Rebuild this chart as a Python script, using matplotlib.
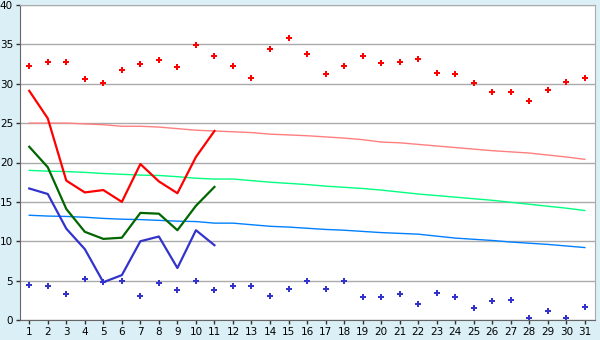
import numpy as np
import matplotlib
matplotlib.use('Agg')
import matplotlib.pyplot as plt

#data
days = np.arange(1, 32)
maxTemp = [32.2, 32.8, 32.7, 30.6, 30.1, 31.7, 32.5, 33.0, 32.1, 34.9, 33.5,
           32.3, 30.7, 34.4, 35.8, 33.8, 31.3, 32.2, 33.5, 32.6, 32.8,
           33.1, 31.4, 31.2, 30.1, 28.9, 28.9, 27.8, 29.2, 30.2, 30.7]
minTemp = [4.4, 4.3, 3.3, 5.2, 4.8, 5.0, 3.1, 4.7, 3.8, 5.0, 3.8,
           4.3, 4.3, 3.0, 3.9, 4.9, 3.9, 4.9, 2.9, 2.9, 3.3,
           2.0, 3.4, 2.9, 1.5, 2.4, 2.6, 0.3, 1.1, 0.2, 1.7]
highLine = [29.1, 25.6, 17.7, 16.2, 16.5, 15.0, 19.8, 17.6, 16.1, 20.7, 24.0]
meanLine = [22.0, 19.4, 14.1, 11.2, 10.3, 10.45, 13.6, 13.5, 11.4, 14.5, 16.9]
lowLine = [16.7, 16.0, 11.6, 9.0, 4.8, 5.7, 10.0, 10.6, 6.6, 11.4, 9.5]
normHigh = [25.0, 25.0, 25.0, 24.9, 24.8, 24.6, 24.6, 24.5, 24.3, 24.1, 24.0,
            23.9, 23.8, 23.6, 23.5, 23.4, 23.25, 23.1, 22.9, 22.6, 22.5,
            22.3, 22.1, 21.9, 21.7, 21.5, 21.35, 21.2, 20.95, 20.7, 20.4]
normMean = [19.0, 18.9, 18.85, 18.75, 18.6, 18.5, 18.4, 18.35, 18.2, 18.0, 17.9,
            17.9, 17.7, 17.5, 17.35, 17.2, 17.0, 16.85, 16.7, 16.5, 16.25,
            16.0, 15.8, 15.6, 15.4, 15.2, 14.95, 14.7, 14.45, 14.2, 13.9]
normLow = [13.3, 13.2, 13.15, 13.05, 12.9, 12.8, 12.75, 12.65, 12.55, 12.5, 12.3,
           12.3, 12.1, 11.9, 11.8, 11.65, 11.5, 11.4, 11.25, 11.1, 11.0,
           10.9, 10.65, 10.4, 10.25, 10.1, 9.9, 9.75, 9.6, 9.4, 9.2]
ticks = [str(d) for d in days]

bg = '#daeff6'
fig = plt.figure(figsize=(6, 3.4), dpi=100, facecolor=bg)
ax = fig.add_axes([20/600, 20/340, 575/600, 315/340])
ax.set_facecolor('white')

#normals
ax.plot(days, normHigh, color='#ff7f7f', lw=1)
ax.plot(days, normMean, color='#00ff80', lw=1)
ax.plot(days, normLow, color='#0080ff', lw=1)

#observed lines
d11 = days[:11]
ax.plot(d11, highLine, color='#ff0000', lw=1.6)
ax.plot(d11, meanLine, color='#006600', lw=1.6)
ax.plot(d11, lowLine, color='#3333cc', lw=1.6)

#extremes
ax.plot(days, maxTemp, 'P', color='#ff0000', ms=4.5, mew=0)
ax.plot(days, minTemp, 'P', color='#3333cc', ms=4.5, mew=0)

ax.set_xlim(0.5, 31.55)
ax.set_ylim(0, 40)
ax.set_xticks(days)
ax.set_xticklabels(ticks)
ax.set_yticks(range(0, 41, 5))
ax.grid(axis='y', color='#aaaaaa', lw=1)
ax.set_axisbelow(True)
for s in ax.spines.values():
    s.set_color('#aaaaaa')
ax.spines['left'].set_color('#666666')
ax.spines['bottom'].set_color('#666666')
ax.tick_params(labelsize=7.5, length=3, width=1, color='#333333', pad=2)

fig.savefig('out.png', dpi=100, facecolor=bg)
